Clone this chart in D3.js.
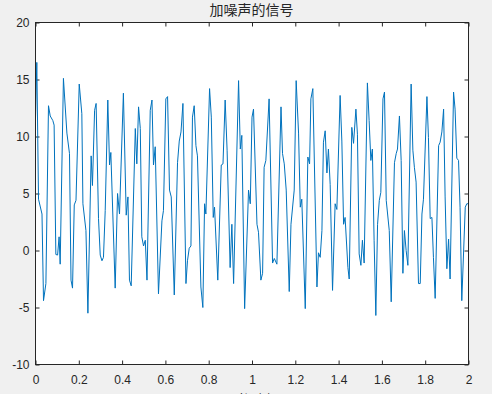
<!DOCTYPE html>
<html>
<head>
<meta charset="utf-8">
<script src="https://cdn.jsdelivr.net/npm/d3@7"></script>
<style>
body { margin: 0; background: #f0f0f0; overflow: hidden; }
svg text { font-family: Arial, "Liberation Sans", sans-serif; }
</style>
</head>
<body>
<script>
// values
var time = [
    0.000, 0.006, 0.014, 0.030, 0.037, 0.048, 0.060, 0.068, 0.080, 0.086,
    0.094, 0.102, 0.109, 0.114, 0.129, 0.145, 0.157, 0.164, 0.171, 0.179,
    0.187, 0.202, 0.214, 0.219, 0.233, 0.242, 0.257, 0.263, 0.273, 0.280,
    0.291, 0.299, 0.307, 0.314, 0.322, 0.334, 0.342, 0.348, 0.368, 0.379,
    0.388, 0.406, 0.419, 0.427, 0.434, 0.442, 0.461, 0.468, 0.476, 0.484,
    0.491, 0.499, 0.507, 0.515, 0.530, 0.538, 0.545, 0.553, 0.568, 0.584,
    0.591, 0.602, 0.610, 0.619, 0.627, 0.641, 0.656, 0.664, 0.672, 0.681,
    0.695, 0.702, 0.710, 0.718, 0.725, 0.733, 0.741, 0.748, 0.764, 0.773,
    0.781, 0.787, 0.804, 0.812, 0.821, 0.827, 0.842, 0.858, 0.866, 0.876,
    0.885, 0.899, 0.907, 0.915, 0.938, 0.946, 0.953, 0.966, 0.984, 0.992,
    1.000, 1.007, 1.023, 1.030, 1.041, 1.049, 1.056, 1.064, 1.079, 1.095,
    1.103, 1.115, 1.134, 1.141, 1.149, 1.158, 1.172, 1.180, 1.195, 1.204,
    1.215, 1.223, 1.230, 1.246, 1.258, 1.266, 1.272, 1.281, 1.300, 1.307,
    1.315, 1.323, 1.330, 1.338, 1.346, 1.353, 1.361, 1.372, 1.384, 1.392,
    1.407, 1.415, 1.423, 1.430, 1.443, 1.449, 1.461, 1.469, 1.480, 1.487,
    1.495, 1.503, 1.510, 1.518, 1.533, 1.541, 1.549, 1.556, 1.564, 1.572,
    1.580, 1.588, 1.595, 1.605, 1.612, 1.620, 1.634, 1.643, 1.658, 1.666,
    1.672, 1.681, 1.689, 1.697, 1.704, 1.712, 1.720, 1.735, 1.743, 1.750,
    1.758, 1.769, 1.777, 1.785, 1.792, 1.808, 1.815, 1.823, 1.831, 1.838,
    1.846, 1.862, 1.869, 1.877, 1.885, 1.892, 1.900, 1.908, 1.915, 1.931,
    1.938, 1.946, 1.954, 1.961, 1.969, 1.985, 1.992, 2.000
];
var signal = [
    11.6, 16.5, 4.5, 3.2, -4.4, -2.9, 12.7, 11.8, 11.4, 11.0,
    -0.35, -0.4, 1.2, -1.2, 15.1, 10.3, 8.5, -2.6, -3.3, 4.0,
    4.4, 14.6, 12.0, 4.1, 1.75, -5.5, 8.3, 5.7, 12.3, 12.9,
    2.8, -0.4, -0.9, -0.6, 3.5, 13.2, 7.5, 8.6, -3.3, 5.0,
    3.2, 13.8, 3.1, 4.7, -2.6, -3.1, 10.7, 7.6, 12.6, 10.7,
    1.2, 0.4, 0.9, -2.6, 12.3, 13.2, 7.5, 9.1, -3.8, 2.6,
    3.5, 13.3, 13.5, 5.3, 4.7, -3.9, 7.7, 9.6, 10.4, 12.9,
    -2.9, -0.9, 0.2, 0.4, 11.7, 12.7, 9.2, 8.3, -3.2, -5.0,
    4.1, 3.2, 14.2, 11.7, 2.9, 3.8, -2.6, 7.5, 7.6, 13.2,
    8.8, -1.5, 2.3, -2.9, 14.9, 8.9, 10.1, -5.1, 5.3, 4.1,
    11.7, 12.4, 2.3, 1.6, -2.6, -2.0, 7.3, 7.9, 13.3, -1.1,
    -0.7, -1.2, 12.6, 8.5, 7.6, 5.3, -3.6, 2.3, 5.3, 14.9,
    10.3, 3.8, 4.5, -5.1, 8.2, 7.6, 13.3, 14.2, -3.2, -0.2,
    -0.6, 1.75, 9.5, 10.5, 6.8, 8.9, 5.8, -3.5, 4.1, 3.6,
    13.6, 9.6, 2.3, 2.9, -1.5, -2.5, 10.8, 9.4, 12.4, 10.2,
    -0.3, -1.3, 0.9, -1.1, 14.7, 11.4, 7.9, 8.9, 0.9, -5.7,
    2.3, 4.4, 5.1, 13.3, 13.9, 4.4, 1.75, -4.5, 7.7, 8.5,
    8.9, 11.8, 7.9, -2.0, 1.75, 0, -1.3, 14.6, 8.8, 7.3,
    6.0, -2.9, -2.9, 3.2, 4.5, 13.5, 9.9, 2.8, 2.9, -0.6,
    -4.2, 9.2, 9.5, 10.4, 12.4, 4.7, -1.6, 1.0, -2.5, 13.9,
    12.4, 8.1, 7.9, 3.8, -4.4, 3.8, 4.1, 4.1
];
var xTicks = [0, 0.2, 0.4, 0.6, 0.8, 1, 1.2, 1.4, 1.6, 1.8, 2];
var yTicks = [-10, -5, 0, 5, 10, 15, 20];
var titleText = '加噪声的信号';
var xLabelText = '时间(s)';

var margin = { top: 22, right: 24, bottom: 30, left: 35 },
    width = 492 - margin.left - margin.right,
    height = 394 - margin.top - margin.bottom;

var svg = d3
    .select('body')
    .append('svg')
    .attr('width', 492)
    .attr('height', 394)
    .style('display', 'block');

var g = svg
    .append('g')
    .attr('transform', 'translate(' + (margin.left + 0.5) + ',' + (margin.top + 0.5) + ')');

var xScale = d3.scaleLinear().domain([0, 2]).range([0, width]);
var yScale = d3.scaleLinear().domain([-10, 20]).range([height, 0]);

g.append('rect')
    .attr('width', width)
    .attr('height', height)
    .attr('fill', '#fff');

var fmt = function (d) {
    return String(d);
};

// inward ticks on all four sides, like a boxed matlab axes
function styleAxis(sel) {
    sel.select('.domain').remove();
    sel.selectAll('line').attr('stroke', '#262626');
    sel.selectAll('text')
        .attr('fill', '#262626')
        .style('font-size', '12px');
}

g.append('g')
    .attr('transform', 'translate(0,' + height + ')')
    .call(d3.axisBottom(xScale).tickValues(xTicks).tickFormat(fmt).tickSize(-4).tickPadding(11))
    .call(styleAxis);
g.append('g')
    .call(d3.axisTop(xScale).tickValues(xTicks).tickFormat('').tickSize(-4))
    .call(styleAxis);
g.append('g')
    .call(d3.axisLeft(yScale).tickValues(yTicks).tickFormat(fmt).tickSize(-4).tickPadding(6))
    .call(styleAxis);
g.append('g')
    .attr('transform', 'translate(' + width + ',0)')
    .call(d3.axisRight(yScale).tickValues(yTicks).tickFormat('').tickSize(-4))
    .call(styleAxis);

var line = d3
    .line()
    .x(function (d, i) {
        return xScale(time[i]);
    })
    .y(function (d) {
        return yScale(d);
    });

g.append('path')
    .datum(signal)
    .attr('d', line)
    .attr('fill', 'none')
    .attr('stroke', '#0072bd')
    .attr('stroke-width', 1)
    .attr('stroke-linejoin', 'round');

g.append('rect')
    .attr('width', width)
    .attr('height', height)
    .attr('fill', 'none')
    .attr('stroke', '#262626')
    .attr('stroke-width', 1);

svg.append('text')
    .attr('x', margin.left + width / 2)
    .attr('y', 15)
    .attr('text-anchor', 'middle')
    .attr('fill', '#262626')
    .style('font-family', '"Noto Sans CJK SC", sans-serif')
    .style('font-size', '14px')
    .text(titleText);

svg.append('text')
    .attr('x', margin.left + width / 2)
    .attr('y', 404)
    .attr('text-anchor', 'middle')
    .attr('fill', '#262626')
    .style('font-family', '"Noto Sans CJK SC", sans-serif')
    .style('font-size', '13px')
    .text(xLabelText);
</script>
</body>
</html>
